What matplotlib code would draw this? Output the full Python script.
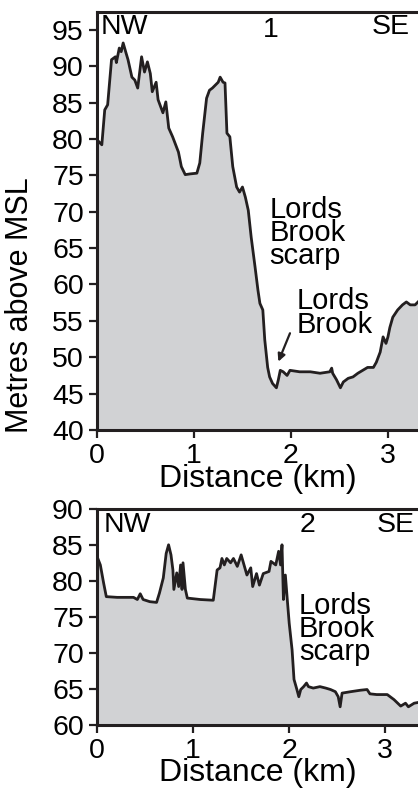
import matplotlib.pyplot as plt

plt.rcParams['font.family'] = ['Liberation Sans', 'DejaVu Sans']

# profile 1 (NW -> SE): distance along profile (km) and elevation (m above MSL)
dist1 = [0.00, 0.05, 0.08, 0.11, 0.15, 0.19, 0.20, 0.23, 0.25, 0.27,
         0.30, 0.32, 0.36, 0.39, 0.42, 0.46, 0.49, 0.52, 0.55, 0.57,
         0.61, 0.63, 0.68, 0.71, 0.74, 0.78, 0.84, 0.87, 0.91, 0.96,
         1.03, 1.06, 1.09, 1.13, 1.16, 1.19, 1.22, 1.25, 1.27, 1.30,
         1.32, 1.34, 1.37, 1.40, 1.44, 1.47, 1.50, 1.53, 1.56, 1.59,
         1.63, 1.66, 1.68, 1.71, 1.73, 1.76, 1.78, 1.81, 1.85, 1.87,
         1.89, 1.92, 1.96, 1.99, 2.09, 2.20, 2.30, 2.40, 2.42, 2.43,
         2.47, 2.51, 2.54, 2.59, 2.64, 2.69, 2.74, 2.79, 2.85, 2.88,
         2.92, 2.95, 2.98, 3.00, 3.02, 3.05, 3.10, 3.15, 3.19, 3.23,
         3.28, 3.31]
elev1 = [79.9, 79.2, 84.0, 84.7, 90.9, 91.3, 90.5, 92.5, 92.0, 93.2,
         91.8, 90.9, 88.5, 88.1, 87.0, 91.3, 89.2, 90.6, 89.0, 86.5,
         87.8, 85.4, 83.6, 85.1, 81.5, 80.3, 78.2, 76.2, 75.1, 75.2,
         75.3, 76.7, 80.8, 85.6, 86.7, 87.0, 87.4, 87.8, 88.5, 87.8,
         87.7, 80.8, 80.3, 76.2, 73.4, 72.7, 73.4, 72.0, 70.2, 66.5,
         62.4, 59.2, 57.4, 56.5, 52.4, 48.6, 47.3, 46.4, 45.8, 46.9,
         48.2, 48.0, 47.5, 48.2, 48.0, 48.0, 47.8, 48.0, 48.5, 47.8,
         46.9, 45.8, 46.6, 47.1, 47.3, 47.8, 48.2, 48.6, 48.6, 49.3,
         50.7, 52.8, 51.9, 52.8, 54.1, 55.5, 56.5, 57.2, 57.6, 57.2,
         57.2, 57.6]

# profile 2 (NW -> SE)
dist2 = [0.000, 0.035, 0.069, 0.097, 0.21, 0.38, 0.42, 0.45, 0.48, 0.55,
         0.62, 0.65, 0.69, 0.72, 0.745, 0.77, 0.79, 0.80, 0.83, 0.85,
         0.87, 0.885, 0.895, 0.92, 0.94, 1.075, 1.21, 1.25, 1.28, 1.30,
         1.325, 1.35, 1.39, 1.42, 1.46, 1.50, 1.53, 1.56, 1.60, 1.62,
         1.66, 1.69, 1.73, 1.79, 1.81, 1.86, 1.89, 1.91, 1.925, 1.94,
         1.96, 1.98, 2.00, 2.03, 2.05, 2.08, 2.10, 2.12, 2.15, 2.18,
         2.20, 2.25, 2.32, 2.38, 2.43, 2.48, 2.51, 2.53, 2.55, 2.64,
         2.74, 2.81, 2.84, 2.91, 3.02, 3.09, 3.16, 3.21, 3.24, 3.30,
         3.34]
elev2 = [83.4, 82.2, 79.7, 77.8, 77.7, 77.7, 77.4, 78.2, 77.4, 77.1,
         77.0, 78.3, 80.4, 83.8, 85.0, 83.6, 81.5, 78.8, 81.1, 79.2,
         82.2, 78.8, 82.5, 78.8, 77.6, 77.4, 77.3, 81.5, 81.8, 83.1,
         82.2, 83.1, 82.5, 83.1, 82.0, 83.6, 82.2, 80.8, 81.8, 79.2,
         81.0, 79.4, 81.0, 81.3, 82.7, 82.2, 84.1, 82.2, 85.0, 77.4,
         80.8, 77.4, 74.1, 70.4, 66.3, 64.9, 63.9, 64.9, 65.3, 65.8,
         65.3, 65.1, 65.3, 65.1, 64.9, 64.6, 63.9, 62.5, 64.4, 64.6,
         64.8, 64.9, 64.3, 64.2, 64.2, 63.5, 62.6, 63.0, 62.5, 63.0,
         63.1]

yticks1 = list(range(40, 100, 5))
yticks2 = list(range(60, 95, 5))
xticks = [0, 1, 2, 3]

fill_col = '#d1d2d4'
line_col = '#231f20'
fs_tick = 20.5
fs_lab = 23
fs_txt = 21

fig = plt.figure(figsize=(4.18, 8), dpi=100)
ax1 = fig.add_axes([0.232, 0.4625, 0.768, 0.522])
ax2 = fig.add_axes([0.232, 0.094, 0.768, 0.270])


def profile(ax, d, e, ylo, yhi, xhi, yt):
    ax.fill_between(d, e, ylo, color=fill_col, lw=0)
    ax.plot(d, e, color=line_col, lw=2.0)
    ax.set_xlim(0, xhi)
    ax.set_ylim(ylo, yhi)
    ax.set_xticks(xticks)
    ax.set_yticks(yt)
    ax.tick_params(direction='out', length=6, width=1.6, labelsize=fs_tick,
                   pad=3.5, color=line_col)
    for s in ['left', 'bottom', 'top']:
        ax.spines[s].set_linewidth(2.2)
        ax.spines[s].set_color(line_col)
    ax.spines['right'].set_visible(False)
    ax.set_xlabel('Distance (km)', fontsize=fs_lab, labelpad=-4)


profile(ax1, dist1, elev1, 40, 97.4, 3.31, yticks1)
profile(ax2, dist2, elev2, 60, 90, 3.34, yticks2)

ax1.text(0.01, 0.995, 'NW', transform=ax1.transAxes, fontsize=fs_tick, va='top', ha='left')
ax1.text(0.54, 0.99, '1', transform=ax1.transAxes, fontsize=fs_tick, va='top', ha='center')
ax1.text(0.975, 0.995, 'SE', transform=ax1.transAxes, fontsize=fs_tick, va='top', ha='right')
ax1.text(1.78, 72.2, 'Lords\nBrook\nscarp', fontsize=fs_txt, va='top', ha='left',
         linespacing=0.78)
ax1.text(2.06, 59.6, 'Lords\nBrook', fontsize=fs_txt, va='top', ha='left',
         linespacing=0.78)
ax1.annotate('', xy=(1.87, 49.4), xytext=(1.99, 53.3),
             arrowprops=dict(arrowstyle='-|>', color=line_col, lw=1.6,
                             mutation_scale=11, shrinkA=0, shrinkB=0))

ax2.text(0.02, 0.985, 'NW', transform=ax2.transAxes, fontsize=fs_tick, va='top', ha='left')
ax2.text(0.655, 0.985, '2', transform=ax2.transAxes, fontsize=fs_tick, va='top', ha='center')
ax2.text(0.99, 0.985, 'SE', transform=ax2.transAxes, fontsize=fs_tick, va='top', ha='right')
ax2.text(2.1, 78.5, 'Lords\nBrook\nscarp', fontsize=fs_txt, va='top', ha='left',
         linespacing=0.78)

fig.text(0.048, 0.619, 'Metres above MSL', rotation=90, fontsize=22,
         va='center', ha='center')

fig.savefig('out.png', dpi=100)
